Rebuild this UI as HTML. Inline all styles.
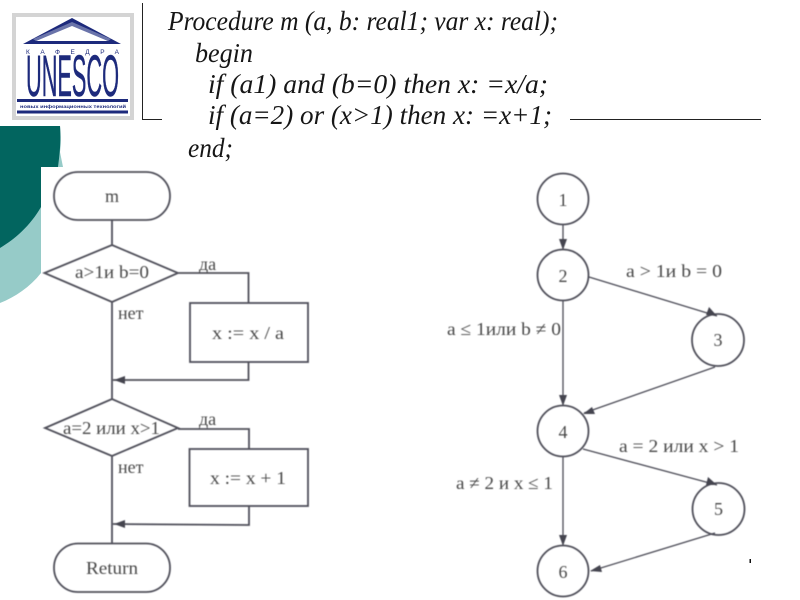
<!DOCTYPE html>
<html>
<head>
<meta charset="utf-8">
<style>
html,body{margin:0;padding:0;background:#fff;width:800px;height:600px;overflow:hidden}
svg{display:block}
.code{font-family:"Liberation Serif",serif;font-style:italic;font-size:27px;fill:#161616}
.t{font-family:"Liberation Serif","DejaVu Serif",serif;font-size:18px;fill:#484848}
.s{fill:none;stroke:#50505a;stroke-width:1.8}
.e{fill:none;stroke:#4c4c56;stroke-width:1.3}
.a{fill:#44444f;stroke:none}
</style>
</head>
<body>
<svg width="800" height="600" viewBox="0 0 800 600" xmlns="http://www.w3.org/2000/svg">
<defs><filter id="b"><feGaussianBlur stdDeviation="0.4"/></filter></defs>

<!-- teal background shapes -->
<path d="M0,126H60C61,135 61,145 60,152L63,167H41V273C30,287 15,297 0,303Z" fill="#96cbc8"/>
<path d="M0,126H60C61,140 60,152 58,167H41V207C30,226 15,239 0,248Z" fill="#02655f"/>

<!-- logo -->
<rect x="14" y="15" width="118" height="103" fill="#fff" stroke="#d4d4d4" stroke-width="4"/>
<g fill="#1d2a7c">
<path d="M72,18 L121,44 H23 Z M72,25 L36,41 H108 Z" fill-rule="evenodd"/>
<path d="M72,22 L33,39 L36,41 L72,26 L108,41 L111,39 Z" fill="#6a74aa"/>
<rect x="17" y="99" width="111" height="3"/>
<rect x="17" y="110.500" width="111" height="3"/>
<text x="26" y="54" font-family="Liberation Sans,sans-serif" font-size="6.500" textLength="93" lengthAdjust="spacing">КАФЕДРА</text>
<text x="26" y="96" font-family="Liberation Sans,sans-serif" font-size="58" stroke="#1d2a7c" stroke-width="0.5" textLength="93" lengthAdjust="spacingAndGlyphs">UNESCO</text>
<text x="20" y="108" font-family="Liberation Sans,sans-serif" font-size="4.800" font-weight="bold" textLength="106" lengthAdjust="spacingAndGlyphs">новых информационных технологий</text>
</g>

<!-- header rules -->
<path d="M142.500,3V119.500M142,119.500H162M570,119.500H761" fill="none" stroke="#222" stroke-width="1"/>

<!-- code -->
<text class="code" x="168" y="30" textLength="390" lengthAdjust="spacingAndGlyphs">Procedure m (a, b: real1; var x: real);</text>
<text class="code" x="195" y="62" textLength="58" lengthAdjust="spacingAndGlyphs">begin</text>
<text class="code" x="208" y="93" textLength="340" lengthAdjust="spacingAndGlyphs">if (a1) and (b=0) then x: =x/a;</text>
<text class="code" x="208" y="124" textLength="344" lengthAdjust="spacingAndGlyphs">if (a=2) or (x&gt;1) then x: =x+1;</text>
<text class="code" x="188" y="157" textLength="45" lengthAdjust="spacingAndGlyphs">end;</text>

<g filter="url(#b)">
<!-- flowchart -->
<rect class="s" x="54" y="172" width="116" height="48" rx="24" ry="24"/>
<text class="t" x="112" y="202" text-anchor="middle" font-size="19">m</text>
<path class="s" d="M112,220V245M44.500,273L112,245L178,273L112,302ZM178,273H248.500V303"/>
<path class="s" d="M112,302V399M112,456V543"/>
<rect class="s" x="190" y="303" width="118" height="59"/>
<text class="t" x="248" y="339" text-anchor="middle" font-size="20" textLength="72" lengthAdjust="spacingAndGlyphs">x := x / a</text>
<path class="s" d="M248.500,362V380H113"/>
<path class="a" d="M114,380L125,376V384Z"/>
<text class="t" x="75" y="278" textLength="74" lengthAdjust="spacingAndGlyphs">a&gt;1и b=0</text>
<text class="t" x="199" y="270">да</text>
<text class="t" x="118" y="319">нет</text>

<path class="s" d="M45,428L112,399L178,428L112,456ZM178,429H249V449"/>
<rect class="s" x="189.500" y="449" width="118.500" height="57"/>
<text class="t" x="210" y="484" font-size="20" textLength="76" lengthAdjust="spacingAndGlyphs">x := x + 1</text>
<path class="s" d="M249,506V525L113,524"/>
<path class="a" d="M114,524L125,520V528Z"/>
<text class="t" x="63" y="434" textLength="97" lengthAdjust="spacingAndGlyphs">a=2 или x&gt;1</text>
<text class="t" x="199" y="425">да</text>
<text class="t" x="118" y="473">нет</text>
<rect class="s" x="54" y="543.500" width="116" height="48.500" rx="24" ry="24"/>
<text class="t" x="86" y="574" font-size="19" textLength="52" lengthAdjust="spacingAndGlyphs">Return</text>

<!-- graph -->
<g class="s">
<circle cx="563" cy="199" r="25.500"/>
<circle cx="563" cy="275" r="25.500"/>
<circle cx="718" cy="340" r="26"/>
<circle cx="563" cy="431" r="25.500"/>
<circle cx="718.500" cy="509" r="26"/>
<circle cx="563" cy="571" r="25.500"/>
</g>
<g class="t" text-anchor="middle" font-size="20">
<text x="563" y="206">1</text>
<text x="563" y="282">2</text>
<text x="718" y="346">3</text>
<text x="563" y="438">4</text>
<text x="718.500" y="515">5</text>
<text x="563" y="578">6</text>
</g>
<path class="e" d="M563,225V249M589,277L717,316M563,301V405M715,367L584,413M583,449L717,485M563,457V545M715,533L591,571"/>
<path class="a" d="M563,250L559,239H567Z"/>
<path class="a" d="M717,316L706,315L709,307Z"/>
<path class="a" d="M563,406L559,395H567Z"/>
<path class="a" d="M583,414L592,407L595,414Z"/>
<path class="a" d="M717,485L706,485L708,477Z"/>
<path class="a" d="M563,546L559,535H567Z"/>
<path class="a" d="M590,571L600,565L602,572Z"/>
<text class="t" x="626" y="277" textLength="96" lengthAdjust="spacingAndGlyphs">a &gt; 1и b = 0</text>
<text class="t" x="447" y="335" textLength="114" lengthAdjust="spacingAndGlyphs">a ≤ 1или b ≠ 0</text>
<text class="t" x="619" y="452" textLength="120" lengthAdjust="spacingAndGlyphs">a = 2 или x &gt; 1</text>
<text class="t" x="456" y="489" textLength="97" lengthAdjust="spacingAndGlyphs">a ≠ 2 и x ≤ 1</text>
</g>
<rect x="749.500" y="559" width="1.500" height="4" fill="#111"/>
</svg>
</body>
</html>
